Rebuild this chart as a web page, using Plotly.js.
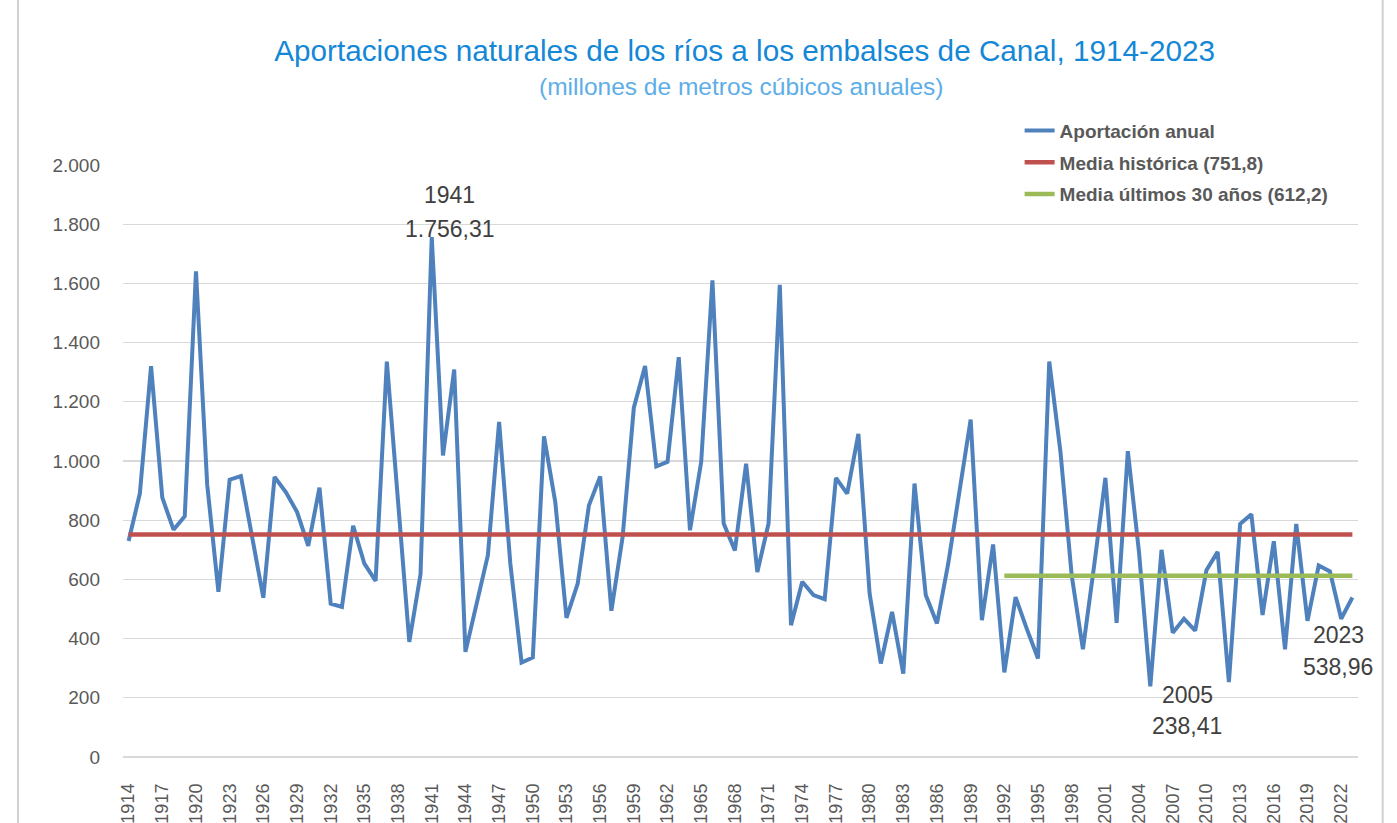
<!DOCTYPE html>
<html>
<head>
<meta charset="utf-8">
<script src="https://cdn.plot.ly/plotly-3.0.1.min.js"></script>
<style>html,body{margin:0;padding:0;background:#fff;}#chart{width:1397px;height:823px;}</style>
</head>
<body>
<div id="chart"></div>
<script>
const years = [1914,1915,1916,1917,1918,1919,1920,1921,1922,1923,1924,1925,1926,1927,1928,1929,1930,1931,1932,1933,1934,1935,1936,1937,1938,1939,1940,1941,1942,1943,1944,1945,1946,1947,1948,1949,1950,1951,1952,1953,1954,1955,1956,1957,1958,1959,1960,1961,1962,1963,1964,1965,1966,1967,1968,1969,1970,1971,1972,1973,1974,1975,1976,1977,1978,1979,1980,1981,1982,1983,1984,1985,1986,1987,1988,1989,1990,1991,1992,1993,1994,1995,1996,1997,1998,1999,2000,2001,2002,2003,2004,2005,2006,2007,2008,2009,2010,2011,2012,2013,2014,2015,2016,2017,2018,2019,2020,2021,2022,2023];
const aportacion = [730,890,1320,876,768,813,1641,920,558,937,949,740,538,946,895,828,713,910,518,507,781,653,595,1336,870,389,617,1756.31,1019,1309,355,519,682,1132,653,319,336,1083,862,470,586,850,948,494,743,1180,1321,982,997,1351,766,997,1610,789,698,991,625,789,1595,445,592,547,533,943,890,1092,552,316,490,282,924,547,451,653,900,1140,462,718,286,540,433,333,1336,1030,613,364,647,943,453,1033,690,238.41,700,420,467,427,631,693,253,787,820,480,729,364,787,460,647,627,467,538.96];
const mediaHistorica = 751.8;
const mediaHistYears = [1914, 2023];
const media30 = 612.2;
const media30Years = [1992, 2023];
const seriesNames = ["Aportación anual", "Media histórica (751,8)", "Media últimos 30 años (612,2)"];
const labelPoints = [
  {year: 1941, value: 1756.31, yearText: "1941", valueText: "1.756,31"},
  {year: 2005, value: 238.41, yearText: "2005", valueText: "238,41"},
  {year: 2023, value: 538.96, yearText: "2023", valueText: "538,96"}
];

const font = "Liberation Sans, Arial, sans-serif";

const traces = [
  {x: years, y: aportacion, type: "scatter", mode: "lines", name: seriesNames[0], legendgroup: "a",
   line: {color: "#4F81BD", width: 4, shape: "linear"}, hoverinfo: "x+y"},
  {x: mediaHistYears, y: mediaHistYears.map(() => mediaHistorica), type: "scatter", mode: "lines", name: seriesNames[1], legendgroup: "b",
   line: {color: "#C0504D", width: 4.5}},
  {x: media30Years, y: media30Years.map(() => media30), type: "scatter", mode: "lines", name: seriesNames[2], legendgroup: "c",
   line: {color: "#9BBB59", width: 4.5}}
];

// label offsets in pixels (year line / value line)
const offs = [
  {xs: 18, ysYear: 42, ysVal: 8},
  {xs: 37, ysYear: -9, ysVal: -40},
  {xs: -14, ysYear: -38, ysVal: -70}
];
const annotations = [];
labelPoints.forEach((p, i) => {
  const o = offs[i];
  annotations.push({x: p.year, y: p.value, xref: "x", yref: "y", text: p.yearText, showarrow: false,
    xshift: o.xs, yshift: o.ysYear, font: {family: font, size: 23, color: "#404040"}});
  annotations.push({x: p.year, y: p.value, xref: "x", yref: "y", text: p.valueText, showarrow: false,
    xshift: o.xs, yshift: o.ysVal, font: {family: font, size: 23, color: "#404040"}});
});
annotations.push({xref: "paper", yref: "paper", x: 0.5005, y: 1.132, xanchor: "center", yanchor: "middle",
  text: "(millones de metros cúbicos anuales)", showarrow: false,
  font: {family: font, size: 24.5, color: "#5DAEE8"}});

const layout = {
  width: 1397, height: 823,
  margin: {l: 123, r: 39, t: 165, b: 66, autoexpand: false},
  paper_bgcolor: "#ffffff", plot_bgcolor: "#ffffff",
  separators: ",.",
  title: {text: "Aportaciones naturales de los ríos a los embalses de Canal, 1914-2023",
    x: 0.533, xanchor: "center", y: 0.939, yanchor: "middle",
    font: {family: font, size: 29.7, color: "#1487D6"}},
  xaxis: {type: "linear", range: [1913.5, 2023.5], tick0: 1914, dtick: 3, tickangle: -90, tickformat: "d",
    showgrid: false, zeroline: false, showline: false, ticks: "", ticklabelstandoff: 22,
    tickfont: {family: font, size: 18, color: "#595959"}, automargin: false},
  yaxis: {range: [0, 2000], dtick: 200, tick0: 0, tickformat: ",d", showgrid: true, gridcolor: "#d9d9d9", gridwidth: 1.3,
    zeroline: true, zerolinecolor: "#d9d9d9", zerolinewidth: 1.3, showline: false, ticks: "", ticklabelstandoff: 22,
    tickfont: {family: font, size: 19, color: "#595959"}, automargin: false},
  showlegend: true,
  legend: {x: 0.726, xanchor: "left", y: 1.09, yanchor: "top", bgcolor: "rgba(255,255,255,0)",
    font: {family: font, size: 19, color: "#595959", weight: "bold"}, tracegroupgap: 4, traceorder: "grouped"},
  shapes: [
    {type: "rect", xref: "paper", yref: "paper", x0: 0.663, x1: 1.01, y0: 0.985, y1: 1.02, fillcolor: "#ffffff", line: {width: 0}, layer: "above"},
    {type: "rect", xref: "paper", yref: "paper", x0: -0.085, x1: 1.02, y0: -0.2, y1: 1.3, fillcolor: "rgba(0,0,0,0)", line: {color: "#d0d0d0", width: 2}, layer: "above"}
  ],
  annotations: annotations
};

Plotly.newPlot("chart", traces, layout, {displayModeBar: false, staticPlot: true});
</script>
</body>
</html>
